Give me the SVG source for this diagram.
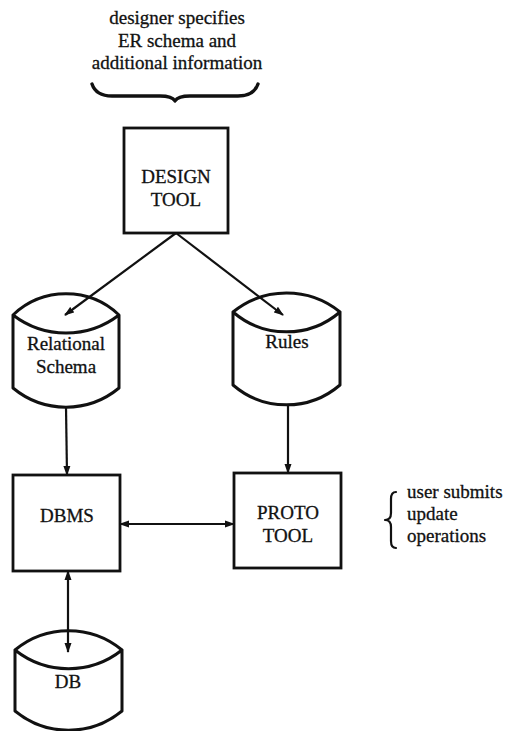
<svg xmlns="http://www.w3.org/2000/svg" width="506" height="731" viewBox="0 0 506 731">
  <style>
    .label { font-family: "Liberation Serif", "Times New Roman", serif; font-size: 19px; fill: #111; stroke: #111; stroke-width: 0.3; }
    .mid { text-anchor: middle; }
    .box { fill: none; stroke: #111; stroke-width: 2.8; }
    .cyl { fill: none; stroke: #111; stroke-width: 3; stroke-linejoin: round; }
    .edge { fill: none; stroke: #111; stroke-width: 2.2; }
    .brace { fill: none; stroke: #111; stroke-linecap: round; stroke-linejoin: round; }
  </style>
  <defs>
    <marker id="arrow" markerUnits="userSpaceOnUse" markerWidth="10" markerHeight="8" viewBox="0 0 10 8" refX="9" refY="4" orient="auto-start-reverse">
      <path d="M0,0.5 L10,4 L0,7.5 Z" fill="#111"/>
    </marker>
  </defs>
  <rect width="506" height="731" fill="#ffffff"/>

  <!-- input annotation -->
  <g id="designer-note">
    <text class="label mid" x="177" y="24">designer specifies</text>
    <text class="label mid" x="177" y="47">ER schema and</text>
    <text class="label mid" x="177" y="69">additional information</text>
    <path class="brace" stroke-width="3.4" d="M92,84 Q96,96 112,96 L160,96 Q172,96 175,101 Q178,96 190,96 L238,96 Q254,96 258,84"/>
  </g>

  <g id="design-tool">
    <rect class="box" x="124" y="128" width="104" height="105"/>
    <text class="label mid" x="176" y="183">DESIGN</text>
    <text class="label mid" x="176" y="206">TOOL</text>
  </g>

  <g id="relational-schema">
    <path class="cyl" d="M13,315 A77,77 0 0 1 119,315 A87,87 0 0 1 13,315 Z M13,315 L13,388 A83,83 0 0 0 119,388 L119,315"/>
    <text class="label mid" x="66" y="350">Relational</text>
    <text class="label mid" x="66" y="373">Schema</text>
  </g>

  <g id="rules">
    <path class="cyl" d="M233,312 A85,85 0 0 1 340,312 A82,82 0 0 1 233,312 Z M233,312 L233,385 A82,82 0 0 0 340,385 L340,312"/>
    <text class="label mid" x="287" y="348">Rules</text>
  </g>

  <g id="dbms">
    <rect class="box" x="13" y="475" width="107" height="96"/>
    <text class="label mid" x="67" y="522">DBMS</text>
  </g>

  <g id="proto-tool">
    <rect class="box" x="234" y="473" width="107" height="95"/>
    <text class="label mid" x="288" y="519">PROTO</text>
    <text class="label mid" x="288" y="542">TOOL</text>
  </g>

  <g id="db">
    <path class="cyl" d="M15,650 A84,84 0 0 1 122,650 A86,86 0 0 1 15,650 Z M15,650 L15,711 A84,84 0 0 0 122,711 L122,650"/>
    <text class="label mid" x="68" y="688">DB</text>
  </g>

  <!-- user annotation -->
  <g id="user-note">
    <path class="brace" stroke-width="2.2" d="M396,492 Q391,492 391,499 L391,513 Q391,520 385,520 Q391,520 391,527 L391,541 Q391,548 396,548"/>
    <text class="label" x="407" y="498">user submits</text>
    <text class="label" x="407" y="520">update</text>
    <text class="label" x="407" y="542">operations</text>
  </g>

  <g id="connectors">
    <line class="edge" x1="176" y1="233" x2="65" y2="315" marker-end="url(#arrow)"/>
    <line class="edge" x1="176" y1="233" x2="283" y2="315" marker-end="url(#arrow)"/>
    <line class="edge" x1="66" y1="407" x2="67" y2="475" marker-end="url(#arrow)"/>
    <line class="edge" x1="288" y1="405" x2="288" y2="473" marker-end="url(#arrow)"/>
    <line class="edge" x1="120" y1="524" x2="234" y2="524" marker-start="url(#arrow)" marker-end="url(#arrow)"/>
    <line class="edge" x1="68" y1="571" x2="68" y2="652" marker-start="url(#arrow)" marker-end="url(#arrow)"/>
  </g>
</svg>
